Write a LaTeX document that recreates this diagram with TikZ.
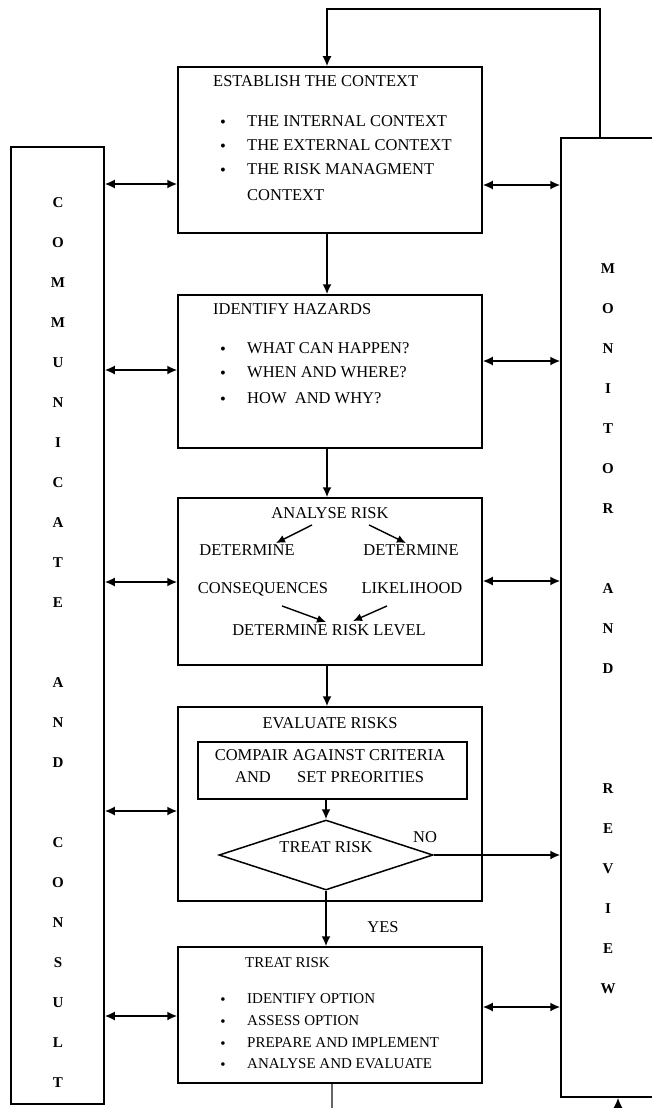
\documentclass[tikz,border=0pt]{standalone}
\usepackage{fontspec}
\setmainfont{Liberation Serif}
\usetikzlibrary{arrows.meta,shapes.geometric}
\begin{document}
\begin{tikzpicture}[x=1pt,y=-1pt,
 box/.style={draw, line width=1.5pt, inner sep=0pt, rectangle},
 txt/.style={inner sep=0pt, text height=11.5pt, text depth=0pt, font=\fontsize{16.5}{20}\selectfont},
 stxt/.style={inner sep=0pt, text height=11pt, text depth=0pt, font=\fontsize{15}{18}\selectfont},
 arr/.style={line width=1.7pt, -{Latex[length=10pt,width=9pt]}},
 dbl/.style={line width=1.7pt, {Latex[length=10pt,width=9pt]}-{Latex[length=10pt,width=9pt]}},
 iarr/.style={line width=1.4pt, -{Latex[length=9pt,width=8pt]}},
 col/.style={inner sep=0pt, align=center, font=\bfseries\fontsize{15}{40}\selectfont},
]
\useasboundingbox (0,0) rectangle (652,1108);
\clip (0,0) rectangle (652,1108);

% main boxes
\node[box, minimum width=304pt, minimum height=166pt] (est) at (330,150) {};
\node[box, minimum width=304pt, minimum height=153pt] (idh) at (330,371.5) {};
\node[box, minimum width=304pt, minimum height=167pt] (ana) at (330,581.5) {};
\node[box, minimum width=304pt, minimum height=194pt] (eva) at (330,804) {};
\node[box, minimum width=304pt, minimum height=136pt] (trt) at (330,1015) {};
\node[box, minimum width=93pt, minimum height=957pt] (com) at (57.5,625.5) {};
\node[box, minimum width=140pt, minimum height=959pt] (mon) at (631,617.5) {};
\node[box, minimum width=269pt, minimum height=57pt] (cmp) at (332.5,770.5) {};
\node[draw, diamond, line width=1.5pt, minimum width=214pt, minimum height=70pt, inner sep=0pt] (dec) at (326,855) {};

% side column texts
\node[col] (comT) at (58,643) {C\\O\\M\\M\\U\\N\\I\\C\\A\\T\\E\\\mbox{}\\A\\N\\D\\\mbox{}\\C\\O\\N\\S\\U\\L\\T};
\node[col] (monT) at (608,629) {M\\O\\N\\I\\T\\O\\R\\\mbox{}\\A\\N\\D\\\mbox{}\\\mbox{}\\R\\E\\V\\I\\E\\W};

% establish the context
\node[txt, anchor=west] (estT) at (213,81) {ESTABLISH THE CONTEXT};
\node[txt] (eb1) at (223,122) {\textbullet};
\node[txt] (eb2) at (223,146) {\textbullet};
\node[txt] (eb3) at (223,170) {\textbullet};
\node[txt, anchor=west] (et1) at (247,121) {THE INTERNAL CONTEXT};
\node[txt, anchor=west] (et2) at (247,145) {THE EXTERNAL CONTEXT};
\node[txt, anchor=west] (et3) at (247,169) {THE RISK MANAGMENT};
\node[txt, anchor=west] (et4) at (247,195) {CONTEXT};

% identify hazards
\node[txt, anchor=west] (idT) at (213,309) {IDENTIFY HAZARDS};
\node[txt] (ib1) at (223,349) {\textbullet};
\node[txt] (ib2) at (223,373) {\textbullet};
\node[txt] (ib3) at (223,399) {\textbullet};
\node[txt, anchor=west] (it1) at (247,348) {WHAT CAN HAPPEN?};
\node[txt, anchor=west] (it2) at (247,372) {WHEN AND WHERE?};
\node[txt, anchor=west] (it3) at (247,398) {HOW~ AND WHY?};

% analyse risk
\node[txt] (anT) at (330,513) {ANALYSE RISK};
\node[txt] (d1) at (247,550) {DETERMINE};
\node[txt] (d2) at (411,550) {DETERMINE};
\node[txt] (cons) at (263,588) {CONSEQUENCES};
\node[txt] (lik) at (412,588) {LIKELIHOOD};
\node[txt] (lvl) at (329,630) {DETERMINE RISK LEVEL};
\draw[iarr] ([xshift=-18pt,yshift=-6pt]anT.south) -- ([xshift=29pt,yshift=1pt]d1.north);
\draw[iarr] ([xshift=39pt,yshift=-6pt]anT.south) -- ([xshift=-5pt,yshift=1pt]d2.north);
\draw[iarr] ([xshift=19pt,yshift=-12pt]cons.south) -- ([xshift=-3pt,yshift=2pt]lvl.north);
\draw[iarr] ([xshift=-25pt,yshift=-12pt]lik.south) -- ([xshift=24pt,yshift=3pt]lvl.north);

% evaluate risks
\node[txt] (evT) at (330,723) {EVALUATE RISKS};
\node[txt] (c1) at (330,755) {COMPAIR AGAINST CRITERIA};
\node[txt] (c2) at (253,777) {AND};
\node[txt, anchor=west] (c3) at (297,777) {SET PREORITIES};
\node[txt] (decT) at (326,847) {TREAT RISK};
\node[txt] (no) at (425,837) {NO};
\node[txt] (yes) at (383,927) {YES};

% treat risk
\node[stxt, anchor=west] (trT) at (245,962) {TREAT RISK};
\node[stxt] (tb1) at (223,999) {\textbullet};
\node[stxt] (tb2) at (223,1021) {\textbullet};
\node[stxt] (tb3) at (223,1043) {\textbullet};
\node[stxt] (tb4) at (223,1064) {\textbullet};
\node[stxt, anchor=west] (tt1) at (247,998) {IDENTIFY OPTION};
\node[stxt, anchor=west] (tt2) at (247,1020) {ASSESS OPTION};
\node[stxt, anchor=west] (tt3) at (247,1042) {PREPARE AND IMPLEMENT};
\node[stxt, anchor=west] (tt4) at (247,1063) {ANALYSE AND EVALUATE};

% vertical flow
\draw[arr] ([xshift=-3pt]est.south) -- ([xshift=-3pt]idh.north);
\draw[arr] ([xshift=-3pt]idh.south) -- ([xshift=-3pt]ana.north);
\draw[arr] ([xshift=-3pt]ana.south) -- ([xshift=-3pt]eva.north);
\draw[arr] (cmp.south -| dec.north) -- (dec.north);
\draw[arr] (dec.south) -- (trt.north -| dec.south);
\draw[arr] (dec.east) -- (mon.west |- dec.east);

% left double arrows
\coordinate (yl1) at (0,184);
\coordinate (yl2) at (0,370);
\coordinate (yl3) at (0,582);
\coordinate (yl4) at (0,811);
\coordinate (yl5) at (0,1016);
\draw[dbl] (com.east |- yl1) -- (est.west |- yl1);
\draw[dbl] (com.east |- yl2) -- (idh.west |- yl2);
\draw[dbl] (com.east |- yl3) -- (ana.west |- yl3);
\draw[dbl] (com.east |- yl4) -- (eva.west |- yl4);
\draw[dbl] (com.east |- yl5) -- (trt.west |- yl5);

% right double arrows
\coordinate (yr1) at (0,185);
\coordinate (yr2) at (0,361);
\coordinate (yr3) at (0,581);
\coordinate (yr4) at (0,1007);
\draw[dbl] (est.east |- yr1) -- (mon.west |- yr1);
\draw[dbl] (idh.east |- yr2) -- (mon.west |- yr2);
\draw[dbl] (ana.east |- yr3) -- (mon.west |- yr3);
\draw[dbl] (trt.east |- yr4) -- (mon.west |- yr4);

% top feedback loop
\coordinate (tr) at (600,9);
\coordinate (tl) at (327,9);
\draw[arr] (mon.north -| tr) -- (tr) -- (tl) -- (est.north -| tl);

% bottom stubs
\coordinate (bt1) at (332,1112);
\coordinate (bt2) at (618,1112);
\draw[line width=1.7pt, black!60] (trt.south -| bt1) -- (bt1);
\draw[arr] (bt2) -- (mon.south -| bt2);
\end{tikzpicture}
\end{document}
